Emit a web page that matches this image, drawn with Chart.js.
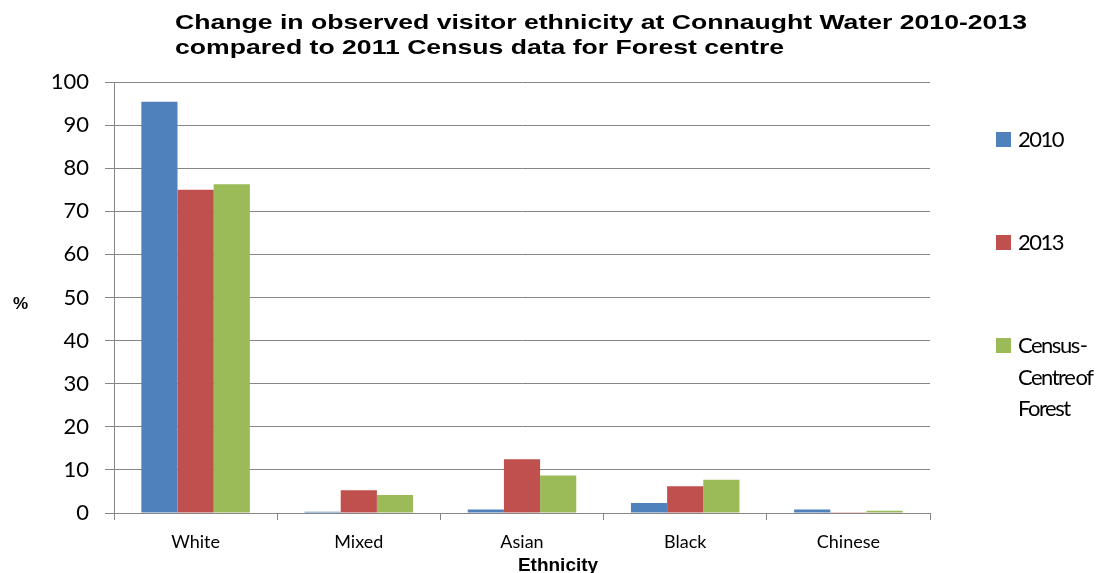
<!DOCTYPE html>
<html>
<head>
<meta charset="utf-8">
<script src="https://cdn.jsdelivr.net/npm/chart.js@4/dist/chart.umd.min.js"></script>
<style>
  html, body { margin: 0; padding: 0; background: #fff; }
  #wrap { position: relative; width: 1100px; height: 573px; }
  #legend { position: absolute; left: 996px; top: 0; font-family: Lato, "Open Sans", sans-serif; font-size: 22px; color: #000; }
  .leg-item { position: absolute; left: 0; white-space: nowrap; }
  .leg-box { position: absolute; left: 0; width: 15px; height: 15px; }
  .leg-text { position: absolute; left: 22px; line-height: 31.5px; letter-spacing: -1.5px; word-spacing: -3px; }
</style>
</head>
<body>
<div id="wrap">
  <canvas id="chart" width="1100" height="573"></canvas>
  <div id="legend"></div>
</div>
<script>
// ── Données ──
const categories = ['White', 'Mixed', 'Asian', 'Black', 'Chinese'];
const values2010 = [95.4, 0.3, 0.8, 2.3, 0.8];
const values2013 = [75.0, 5.3, 12.5, 6.2, 0.2];
const valuesCensus = [76.3, 4.2, 8.7, 7.7, 0.5];
const seriesNames = ['2010', '2013', ['Census -', 'Centre of', 'Forest']];
const seriesColors = ['#4F81BD', '#C0504D', '#9BBB59'];
const titleLines = [
  'Change in observed visitor ethnicity at Connaught Water 2010-2013',
  'compared to 2011 Census data for Forest centre'
];

const gridColor = '#868686';

// ── Titre, "%" et "Ethnicity" ──
const textPlugin = {
  id: 'texts',
  afterDraw(chart) {
    const ctx = chart.ctx;
    ctx.save();
    ctx.fillStyle = '#000';
    ctx.textBaseline = 'alphabetic';
    ctx.textAlign = 'left';
    ctx.font = 'bold 21px "Liberation Sans", Arial, sans-serif';
    // titre étiré horizontalement comme dans l'original
    const sx = 852 / ctx.measureText(titleLines[0]).width;
    ctx.save();
    ctx.translate(175, 0);
    ctx.scale(sx, 1);
    titleLines.forEach((l, i) => ctx.fillText(l, 0, 29 + i * 25));
    ctx.restore();
    ctx.font = 'bold 17px "Liberation Sans", Arial, sans-serif';
    ctx.fillText('%', 13, 309);
    ctx.textAlign = 'center';
    ctx.font = 'bold 19px "Liberation Sans", Arial, sans-serif';
    ctx.fillText('Ethnicity', 558, 571);
    ctx.restore();
  }
};

const datasets = [values2010, values2013, valuesCensus].map((data, i) => ({
  label: Array.isArray(seriesNames[i]) ? seriesNames[i].join(' ') : seriesNames[i],
  data,
  backgroundColor: seriesColors[i],
  borderWidth: 0,
  categoryPercentage: 0.665,
  barPercentage: 1.0
}));

new Chart(document.getElementById('chart'), {
  type: 'bar',
  data: { labels: categories, datasets },
  options: {
    responsive: false,
    animation: false,
    layout: { padding: { top: 82, right: 170, left: 0, bottom: 0 } },
    plugins: {
      legend: { display: false },
      title: { display: false },
      tooltip: { enabled: false }
    },
    scales: {
      x: {
        offset: true,
        grid: { display: true, drawOnChartArea: false, drawTicks: true, tickLength: 7, color: gridColor, offset: true },
        border: { display: true, color: gridColor, width: 1 },
        ticks: { color: '#000', padding: 11, font: { family: 'Lato, "Open Sans", sans-serif', size: 18 } },
        afterFit: s => { s.height = 60; }
      },
      y: {
        min: 0,
        max: 100,
        grid: { color: gridColor, lineWidth: 1, tickLength: 9 },
        border: { display: true, color: gridColor, width: 1 },
        ticks: { stepSize: 10, color: '#000', padding: 16, font: { family: 'Lato, "Open Sans", sans-serif', size: 22 } },
        afterFit: s => { s.width = 114; }
      }
    }
  },
  plugins: [textPlugin]
});

// ── Légende HTML ──
const legendTops = [127, 230, 333];
const legend = document.getElementById('legend');
seriesNames.forEach((name, i) => {
  const item = document.createElement('div');
  item.className = 'leg-item';
  item.style.top = legendTops[i] + 'px';
  const box = document.createElement('div');
  box.className = 'leg-box';
  box.style.background = seriesColors[i];
  box.style.top = '5px';
  const text = document.createElement('div');
  text.className = 'leg-text';
  text.style.top = '-4px';
  text.innerHTML = (Array.isArray(name) ? name : [name]).join('<br>');
  item.appendChild(box);
  item.appendChild(text);
  legend.appendChild(item);
});
</script>
</body>
</html>
